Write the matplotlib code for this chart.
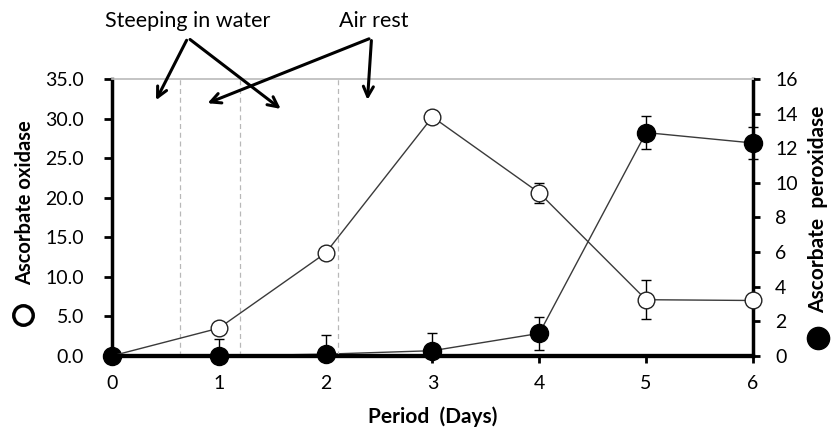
import numpy as np
import matplotlib
matplotlib.use("Agg")
import matplotlib.pyplot as plt
from matplotlib.lines import Line2D

plt.rcParams["font.family"] = ["Lato", "DejaVu Sans"]

# ── 数据 ──
days = [0, 1, 2, 3, 4, 5, 6]
oxidase = [0.0, 3.5, 13.0, 30.2, 20.6, 7.1, 7.0]
oxidase_err = [0, 0, 0, 0, 1.3, 2.5, 0]
peroxidase = [0.0, 0.0, 0.1, 0.3, 1.3, 12.9, 12.3]
peroxidase_err = [0, 1.0, 1.1, 1.0, 0.95, 0.95, 0.95]
stage_bounds = [0.64, 1.20, 2.12]
left_ticks = [0, 5, 10, 15, 20, 25, 30, 35]
right_ticks = [0, 2, 4, 6, 8, 10, 12, 14, 16]

fig = plt.figure(figsize=(8.31, 4.41), dpi=100)
ax = fig.add_axes([0.1348, 0.193, 0.7712, 0.628])
ax2 = ax.twinx()

ax.set_xlim(0, 6)
ax.set_ylim(0, 35)
ax2.set_ylim(0, 16)

# 阶段分界虚线
for xb in stage_bounds:
    ax.axvline(xb, color="#b8b8b8", linestyle=(0, (4, 3)), linewidth=0.9, zorder=1)

# 误差棒下端不越过零线
per_lo = [min(e, v) for e, v in zip(peroxidase_err, peroxidase)]

# 右轴: 抗坏血酸过氧化物酶 (实心)
ax2.errorbar(days, peroxidase, yerr=[per_lo, peroxidase_err], color="#3a3a3a", linewidth=1.0,
             marker="o", markersize=13, markerfacecolor="black", markeredgecolor="black",
             ecolor="black", elinewidth=1.0, capsize=3.5, capthick=1.0, zorder=3,
             clip_on=False)

# 左轴: 抗坏血酸氧化酶 (空心)
ax.set_zorder(ax2.get_zorder() + 1)
ax.patch.set_visible(False)
ax.errorbar(days[1:], oxidase[1:], yerr=oxidase_err[1:], color="#3a3a3a", linewidth=1.0,
            marker="o", markersize=12, markerfacecolor="white", markeredgecolor="#222222",
            markeredgewidth=1.0, ecolor="black", elinewidth=1.0, capsize=3.5,
            capthick=1.0, zorder=4, clip_on=False)
ax.plot(days[:2], oxidase[:2], color="#3a3a3a", linewidth=1.0, zorder=2)

# 坐标轴样式
for a in (ax, ax2):
    a.spines["top"].set_color("#c4c4c4")
    a.spines["top"].set_linewidth(1.2)
    a.spines["bottom"].set_linewidth(3)
ax.spines["left"].set_linewidth(2.5)
ax.spines["right"].set_visible(False)
ax2.spines["left"].set_visible(False)
ax2.spines["right"].set_linewidth(2.5)

ax.set_xticks(days)
ax.set_yticks(left_ticks)
ax.set_yticklabels([f"{v:.1f}" for v in left_ticks])
ax2.set_yticks(right_ticks)
ax.tick_params(axis="x", direction="out", length=5, width=2, labelsize=14, pad=9)
ax.tick_params(axis="y", direction="out", length=6, width=2, labelsize=14, pad=14)
ax2.tick_params(axis="y", direction="out", length=5, width=2, labelsize=14, pad=11)

ax.set_xlabel("Period  (Days)", fontsize=15, fontweight="bold", labelpad=10)

# 轴标题与图例符号
fig.text(0.030, 0.540, "Ascorbate oxidase", rotation=90, ha="center", va="center",
         fontsize=14.5, fontweight="bold")
fig.text(0.985, 0.525, "Ascorbate  peroxidase", rotation=90, ha="center", va="center",
         fontsize=15, fontweight="bold")
fig.add_artist(Line2D([0.028], [0.286], marker="o", markersize=14, markerfacecolor="white",
                      markeredgecolor="black", markeredgewidth=2.5, transform=fig.transFigure))
fig.add_artist(Line2D([0.984], [0.234], marker="o", markersize=16, color="black",
                      transform=fig.transFigure))

# 标注箭头
arrow = dict(arrowstyle="->", color="black", lw=2.2, mutation_scale=18)
ax.text(0.71, 42.3, "Steeping in water", ha="center", va="center", fontsize=15.5)
ax.text(2.45, 42.3, "Air rest", ha="center", va="center", fontsize=15.5)
for xy in [(0.40, 32.0), (1.60, 31.0)]:
    ax.annotate("", xy=xy, xytext=(0.71, 40.2), arrowprops=arrow, annotation_clip=False)
for xy in [(0.87, 31.8), (2.39, 32.0)]:
    ax.annotate("", xy=xy, xytext=(2.43, 40.2), arrowprops=arrow, annotation_clip=False)

fig.savefig("out.png", dpi=100)
